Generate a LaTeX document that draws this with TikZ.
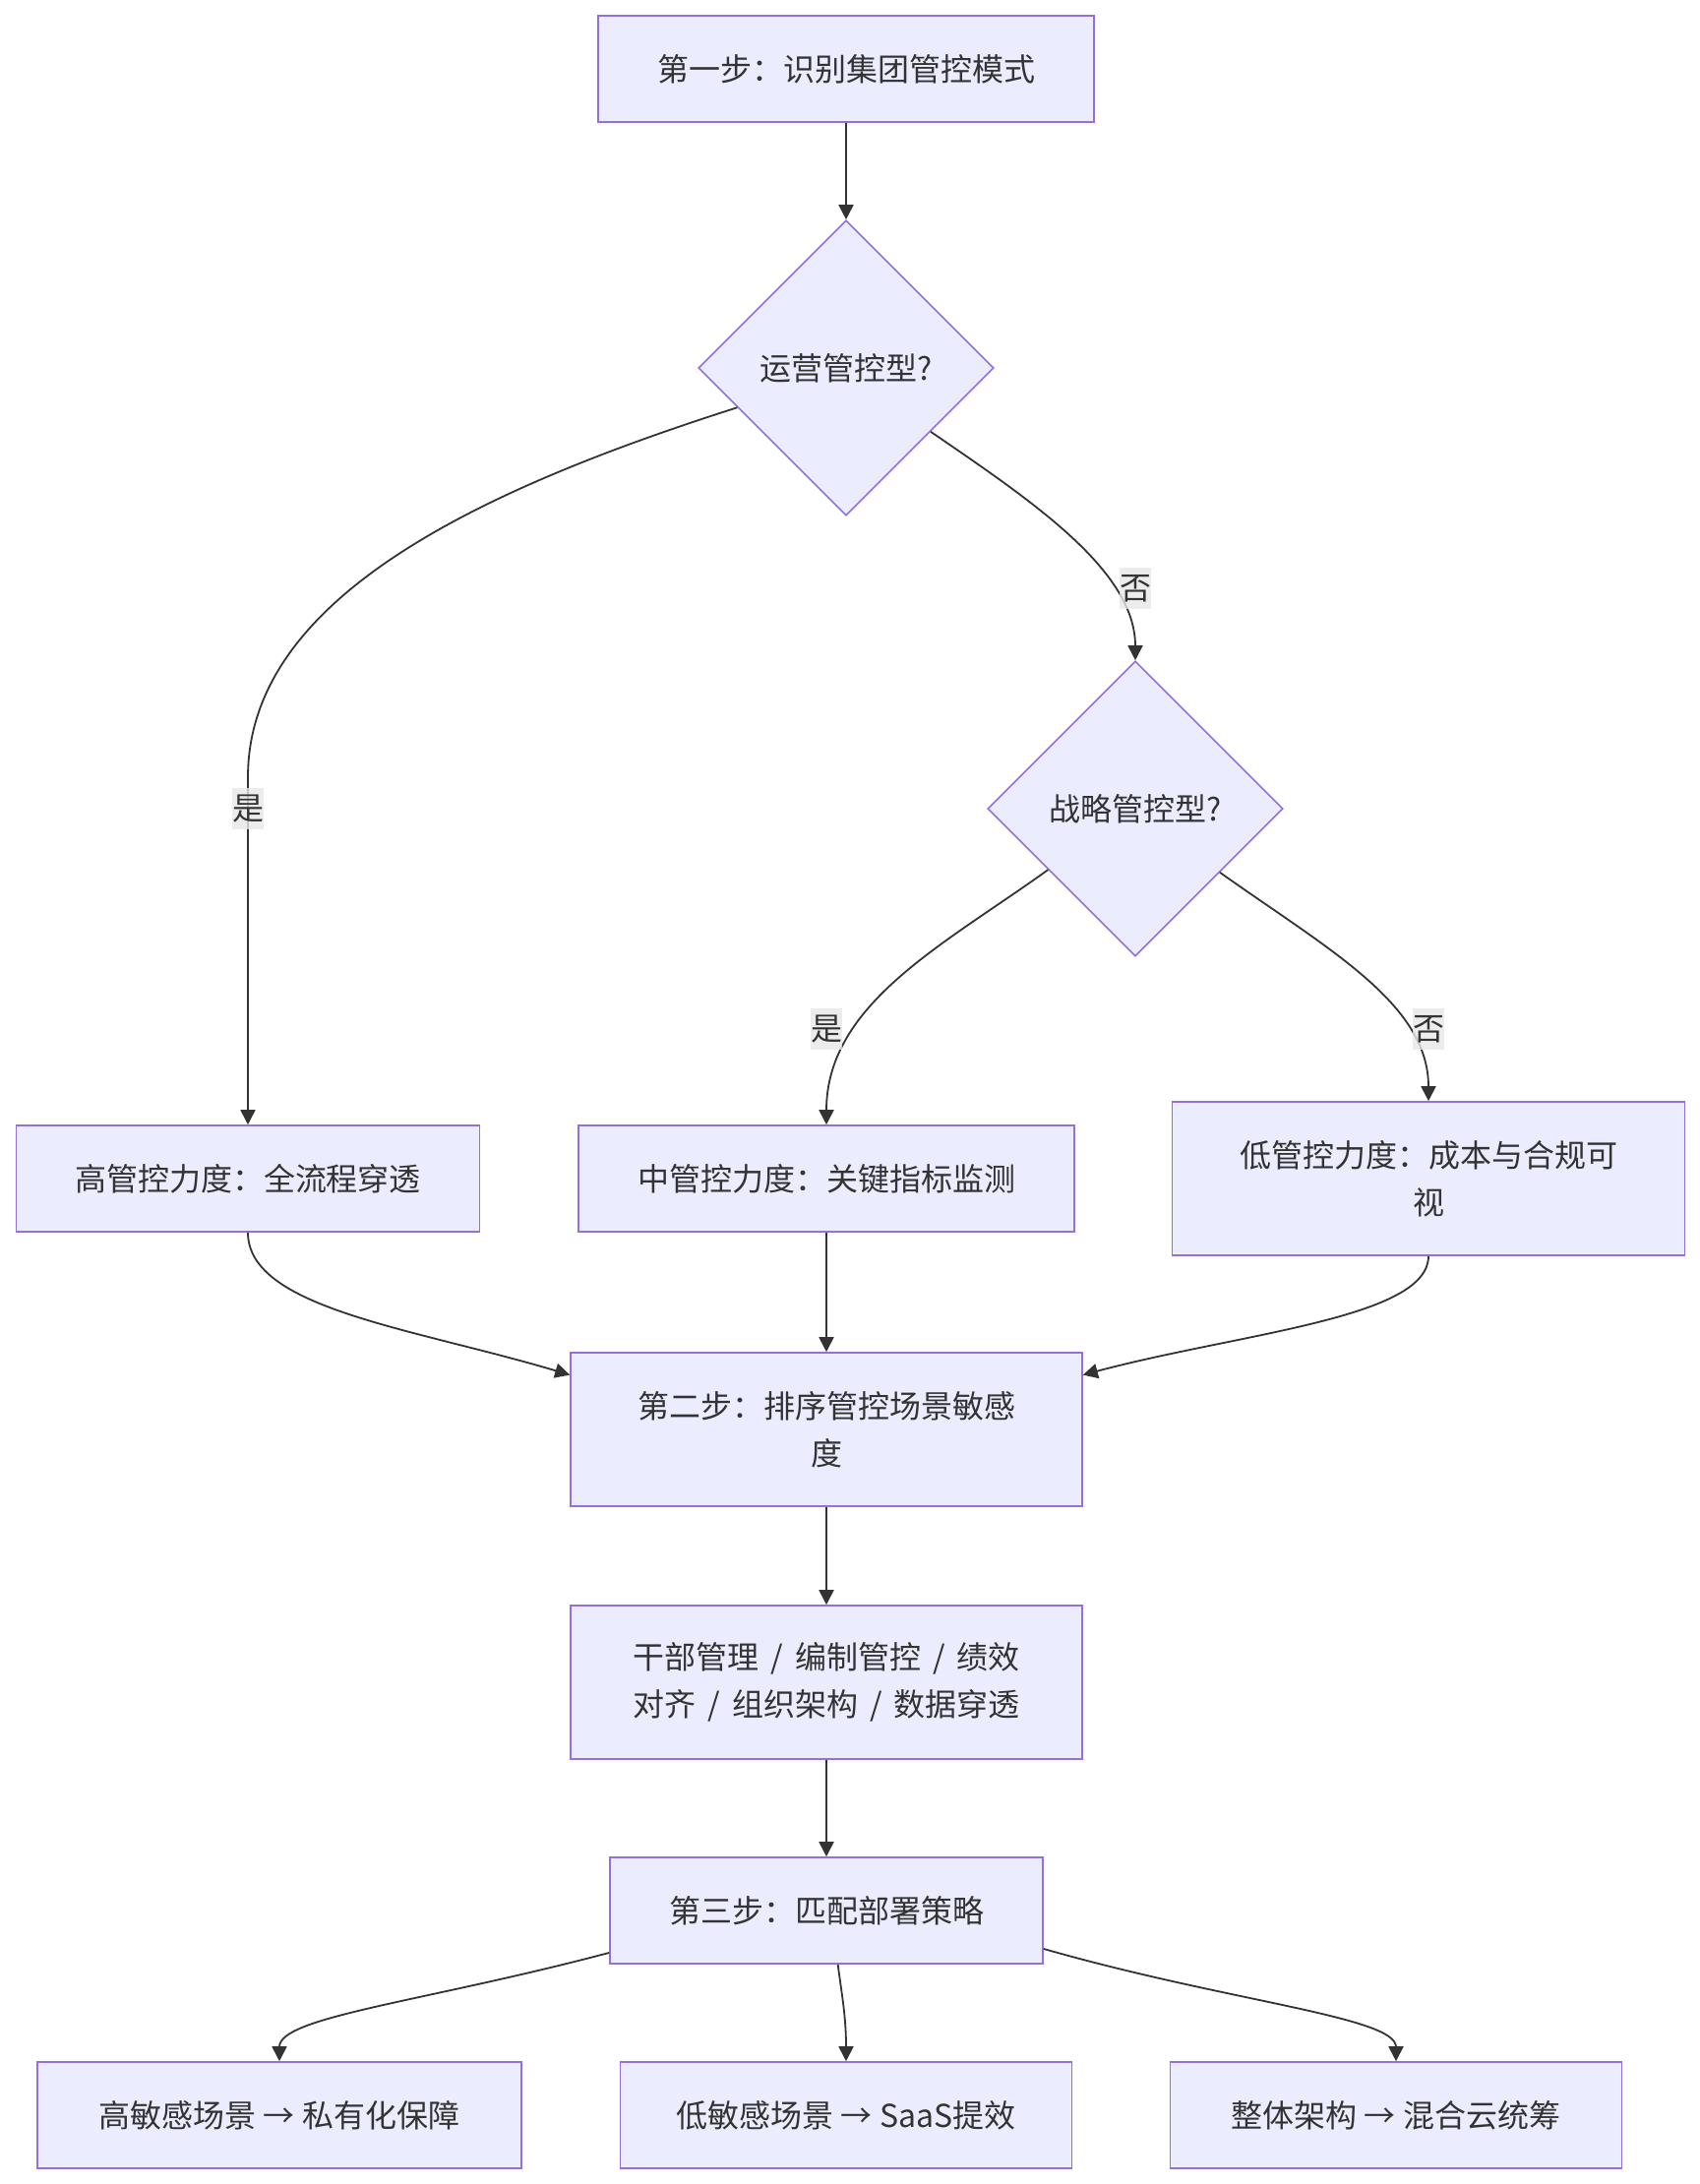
\documentclass[tikz,border=0pt]{standalone}
\usepackage{fontspec}
\setmainfont{Noto Sans CJK SC}
\usetikzlibrary{shapes.geometric, positioning, arrows.meta}
\definecolor{nodefill}{HTML}{ECECFF}
\definecolor{nodeline}{HTML}{9370DB}
\definecolor{inkgray}{HTML}{333333}
\definecolor{labelbg}{HTML}{E8E8E8}
\newcommand{\sepslash}{\hspace{12pt}/\hspace{12pt}}

\begin{document}
\begin{tikzpicture}[x=1pt, y=-1pt,
  every node/.style={font=\fontsize{32}{48}\selectfont, text=inkgray},
  stepbox/.style={draw=nodeline, fill=nodefill, line width=1.6pt, inner sep=0pt, minimum height=108pt, align=center},
  decision/.style={diamond, aspect=1, draw=nodeline, fill=nodefill, line width=1.6pt, inner sep=0pt, minimum width=300pt, minimum height=300pt},
  flow/.style={draw=inkgray, line width=1.8pt, -{Triangle[length=15pt, width=15pt]}},
  edgelabel/.style={fill=labelbg, fill opacity=0.8, text opacity=1, inner xsep=0pt, inner ysep=7pt}]
\fill[white] (0,0) rectangle (1728,2220);
\useasboundingbox (0,0) rectangle (1728,2220);

\node[stepbox, minimum width=504pt] (step1) at (860,70) {第一步：识别集团管控模式};
\node[decision] (opctrl) at (860,374) {运营管控型?};
\node[decision] (stratctrl) at (1154,822) {战略管控型?};
\node[stepbox, minimum width=471pt] (high) at (252,1198) {高管控力度：全流程穿透};
\node[stepbox, minimum width=504pt] (mid) at (840,1198) {中管控力度：关键指标监测};
\node[stepbox, minimum width=521pt, minimum height=156pt] (low) at (1452,1198) {低管控力度：成本与合规可\\视};
\node[stepbox, minimum width=520pt, minimum height=156pt] (step2) at (840,1453) {第二步：排序管控场景敏感\\度};
\node[stepbox, minimum width=520pt, minimum height=156pt] (scenes) at (840,1710) {干部管理\sepslash 编制管控\sepslash 绩效\\对齐\sepslash 组织架构\sepslash 数据穿透};
\node[stepbox, minimum width=440pt] (step3) at (840,1942) {第三步：匹配部署策略};
\node[stepbox, minimum width=492pt] (private) at (284,2150) {高敏感场景 → 私有化保障};
\node[stepbox, minimum width=459pt] (saas) at (860,2150) {低敏感场景 → SaaS提效};
\node[stepbox, minimum width=459pt] (hybrid) at (1419,2150) {整体架构 → 混合云统筹};

\draw[flow] (step1) -- (opctrl);
\draw[flow] (opctrl.200) .. controls (480,500) and (252,610) .. (252,790) -- (high.north);
\draw[flow] (opctrl.323) .. controls (1050,510) and (1154,580) .. (stratctrl.north);
\draw[flow] (stratctrl.215) .. controls (960,960) and (840,1020) .. (mid.north);
\draw[flow] (stratctrl.323) .. controls (1350,965) and (1452,1020) .. (low.north);
\draw[flow] (high.south) .. controls (252,1330) and (420,1350) .. (step2.168);
\draw[flow] (mid) -- (step2);
\draw[flow] (low.south) .. controls (1452,1340) and (1260,1355) .. (step2.12);
\draw[flow] (step2) -- (scenes);
\draw[flow] (scenes) -- (step3);
\draw[flow] (step3.191) .. controls (430,2035) and (284,2050) .. (private.north);
\draw[flow] (step3.282) .. controls (856,2030) and (860,2050) .. (saas.north);
\draw[flow] (step3.350) .. controls (1250,2035) and (1419,2050) .. (hybrid.north);

\node[edgelabel] (yes1) at (252,822) {是};
\node[edgelabel] (no1) at (1154,598) {否};
\node[edgelabel] (yes2) at (840,1046) {是};
\node[edgelabel] (no2) at (1452,1046) {否};
\end{tikzpicture}
\end{document}
